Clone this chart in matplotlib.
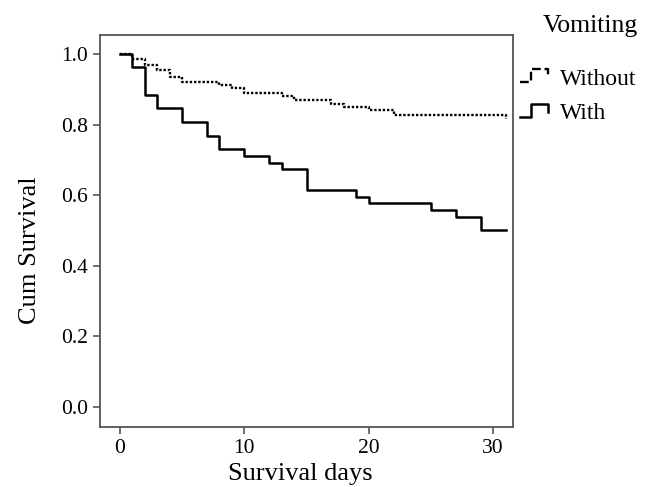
import matplotlib
matplotlib.use("Agg")
import matplotlib.pyplot as plt
from matplotlib.lines import Line2D
from matplotlib.legend_handler import HandlerBase

plt.rcParams['font.family'] = ['Liberation Serif', 'DejaVu Serif']

# Kaplan-Meier step data (step 'post')
without_days = [0, 1, 2, 3, 4, 5, 8, 9, 10, 13, 14, 17, 18, 20, 22, 31]
without_surv = [1.0, 0.985, 0.969, 0.955, 0.935, 0.92, 0.912, 0.904, 0.89, 0.88, 0.87, 0.858, 0.85, 0.841, 0.827, 0.815]

with_days = [0, 1, 2, 3, 5, 7, 8, 10, 12, 13, 15, 19, 20, 25, 27, 29, 31]
with_surv = [1.0, 0.962, 0.885, 0.846, 0.808, 0.769, 0.731, 0.712, 0.692, 0.673, 0.615, 0.596, 0.577, 0.558, 0.538, 0.5, 0.5]

series_labels = ["Without", "With"]
legend_title = "Vomiting"
x_ticks = [0, 10, 20, 30]
y_ticks = [0.0, 0.2, 0.4, 0.6, 0.8, 1.0]

fig = plt.figure(figsize=(6.52, 4.87), dpi=100)
ax = fig.add_axes([100/652, 1-427/487, 413/652, 392/487])

dotted = (0, (1, 0.8))
l1, = ax.step(without_days, without_surv, where='post', color='black', lw=1.7,
              linestyle=dotted, label=series_labels[0])
l2, = ax.step(with_days, with_surv, where='post', color='black', lw=1.8,
              label=series_labels[1])

ax.set_xlim(-1.6, 31.6)
ax.set_ylim(-0.057, 1.054)
ax.set_xticks(x_ticks)
ax.set_yticks(y_ticks)
ax.set_yticklabels([f"{v:.1f}" for v in y_ticks])
ax.tick_params(labelsize=15.5, length=5, width=1.2, color='#555555', direction='out')
for s in ax.spines.values():
    s.set_color('#555555')
    s.set_linewidth(1.3)

ax.set_xlabel("Survival days", fontsize=19)
ax.set_ylabel("Cum Survival", fontsize=19)
ax.xaxis.set_label_coords(0.484, -0.092)
ax.yaxis.set_label_coords(-0.142, 0.452)


class StepHandler(HandlerBase):
    def create_artists(self, legend, orig_handle, xdescent, ydescent,
                       width, height, fontsize, trans):
        xs = [0.0, 0.4, 0.4, 1.0, 1.0]
        ys = [0.15, 0.15, 0.95, 0.95, 0.45]
        xs = [x * width - xdescent for x in xs]
        ys = [y * height - ydescent for y in ys]
        line = Line2D(xs, ys, color=orig_handle.get_color(),
                      lw=orig_handle.get_linewidth(),
                      linestyle=orig_handle.get_linestyle())
        line.set_transform(trans)
        return [line]


fig.text(638/652, 1 - 26/487, legend_title, ha='right', va='center', fontsize=18.5)
leg = fig.legend(handles=[l1, l2], labels=series_labels,
                 loc='upper left', bbox_to_anchor=(520/652, 1 - 68/487),
                 frameon=False, fontsize=17,
                 handler_map={Line2D: StepHandler()},
                 handlelength=1.2, handletextpad=0.5, labelspacing=0.56,
                 borderaxespad=0, borderpad=0)

fig.savefig("out.png", dpi=100)
